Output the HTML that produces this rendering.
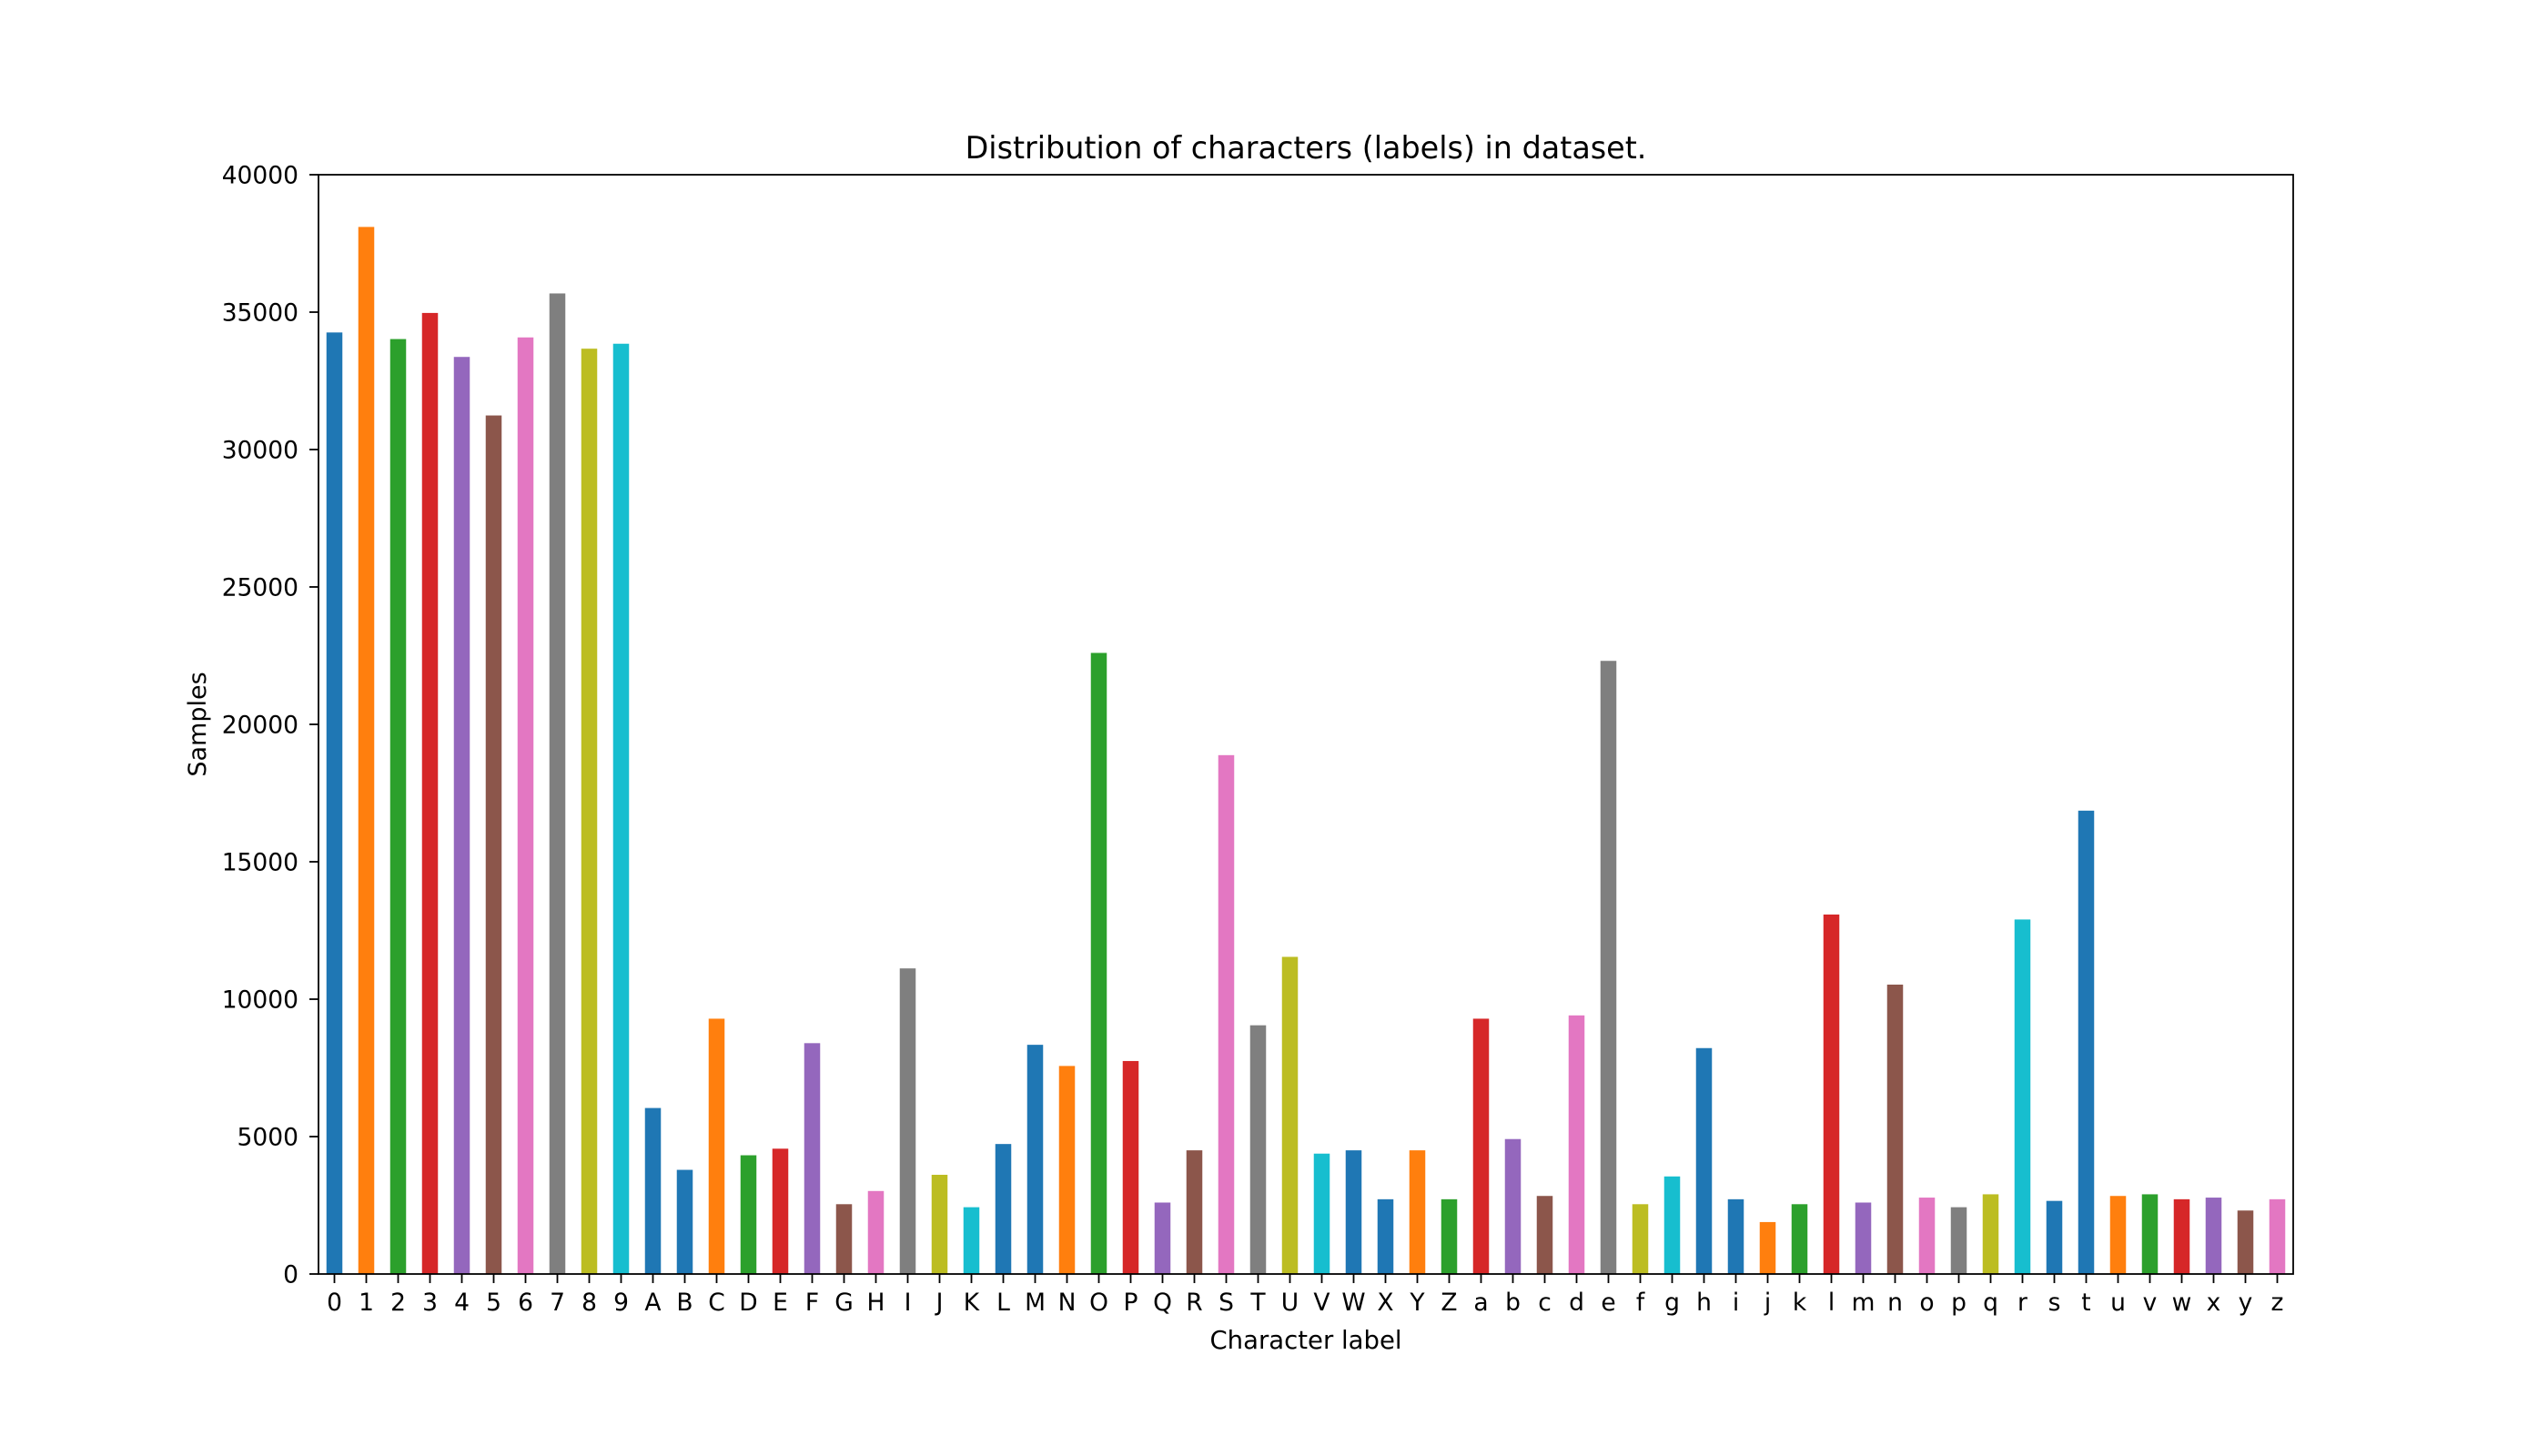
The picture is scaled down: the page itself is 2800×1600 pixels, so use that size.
<!DOCTYPE html>
<html><head><meta charset="utf-8"><style>
html,body{margin:0;padding:0;background:#fff;}
svg{display:block;font-family:"DejaVu Sans","Liberation Sans",sans-serif;}
</style></head><body>
<svg id="chart" width="2800" height="1600" viewBox="0 0 2800 1600" xmlns="http://www.w3.org/2000/svg">
<rect width="2800" height="1600" fill="#fff"/>
<g id="bars"></g>
<g id="xticks"></g>
<g id="yticks"></g>
<rect x="350" y="192" width="2170" height="1208" fill="none" stroke="#000" stroke-width="1.8"/>
<text x="1435" y="174" font-size="33.4" text-anchor="middle">Distribution of characters (labels) in dataset.</text>
<text x="1435" y="1482" font-size="27.5" text-anchor="middle">Character label</text>
<text x="0" y="0" font-size="27" text-anchor="middle" transform="translate(226,796) rotate(-90)">Samples</text>
</svg>
<script>
const categories = ["0","1","2","3","4","5","6","7","8","9","A","B","C","D","E","F","G","H","I","J","K","L","M","N","O","P","Q","R","S","T","U","V","W","X","Y","Z","a","b","c","d","e","f","g","h","i","j","k","l","m","n","o","p","q","r","s","t","u","v","w","x","y","z"];
const samples = [34260,38100,34020,34970,33370,31240,34080,35680,33670,33850,6040,3790,9290,4320,4560,8400,2540,3020,11120,3610,2430,4730,8340,7570,22600,7750,2600,4500,18880,9050,11540,4380,4500,2720,4500,2720,9290,4910,2840,9410,22310,2540,3550,8220,2720,1890,2540,13080,2600,10530,2780,2430,2900,12900,2660,16860,2840,2900,2720,2780,2310,2720];
const yTicks = [0,5000,10000,15000,20000,25000,30000,35000,40000];
const palette = ["#1f77b4","#ff7f0e","#2ca02c","#d62728","#9467bd","#8c564b","#e377c2","#7f7f7f","#bcbd22","#17becf","#1f77b4"];
const L=350,R=2520,T=192,B=1400,YMAX=40000;
const n=categories.length;
const xs=i=>L+(i+0.5)*(R-L)/n;
const ys=v=>B-v/YMAX*(B-T);
const NS="http://www.w3.org/2000/svg";
const bw=0.5*(R-L)/n;
const gb=document.getElementById('bars'),gx=document.getElementById('xticks'),gy=document.getElementById('yticks');
function mk(t,a){const e=document.createElementNS(NS,t);for(const k in a)e.setAttribute(k,a[k]);return e;}
samples.forEach((v,i)=>{
  const r=mk('rect',{x:xs(i)-bw/2,y:ys(v),width:bw,height:B-ys(v),fill:palette[i%palette.length]});
  
  
  gb.appendChild(r);
  const tk=mk('line',{x1:xs(i),x2:xs(i),y1:B,y2:B+10,stroke:'#000','stroke-width':1.8});
  
  
  gx.appendChild(tk);
  const t=mk('text',{x:xs(i),y:B+40,'font-size':26.5,'text-anchor':'middle'});
  t.textContent=categories[i];
  
  
  gx.appendChild(t);
});
yTicks.forEach(v=>{
  const tk=mk('line',{x1:L-10,x2:L,y1:ys(v),y2:ys(v),stroke:'#000','stroke-width':1.8});
  
  
  gy.appendChild(tk);
  const t=mk('text',{x:L-22,y:ys(v)+9.5,'font-size':26.5,'text-anchor':'end'});
  t.textContent=v;
  
  
  gy.appendChild(t);
});
</script>
</body></html>
